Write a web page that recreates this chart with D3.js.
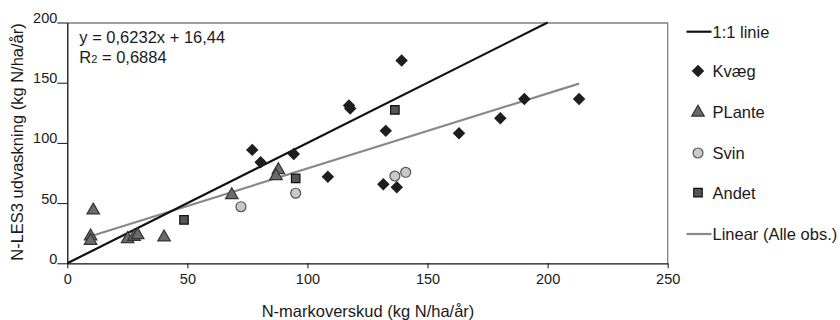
<!DOCTYPE html>
<meta charset="utf-8">
<head>
  <meta charset="utf-8">
  <title>N-LES3 vs N-markoverskud</title>
  <script src="https://d3js.org/d3.v7.min.js"></script>
</head>
<style>
body {margin:0; background:#fff;}
svg text {font-family: "Liberation Sans", Arial, sans-serif; fill:#1a1a1a;}
.tick text {font-size: 14.5px;}
.lbl {font-size: 16.5px;}
</style>
<body>
<svg id="chart" width="840" height="320"></svg>
<script>

// data (x = N-markoverskud, y = N-LES3 udvaskning)
var kvaeg = [[77,94.2],[80.5,84],[94.3,90.7],[108.5,71.8],[117.3,131],[117.8,128.5],
             [132.6,110],[139.2,168.4],[131.6,65.6],[137.2,63.2],[163.1,108],
             [180.3,120.5],[190.3,136.5],[213.1,136.5]];
var plante = [[10.8,44],[9.7,22.5],[9.7,18.8],[25.1,20.2],[27.8,22.1],[29.3,23.5],
              [40.3,21.6],[68.5,56.8],[87.9,77.5],[86.9,72.5]];
var svin = [[72.3,47],[95.1,58.2],[136.4,72.5],[140.9,75.6]];
var andet = [[48.6,36],[95.1,70.6],[136.4,127.4]];

var xTicks = [0,50,100,150,200,250];
var yTicks = [0,50,100,150,200];
var oneToOne = [[0,0],[200,200]];
var slope = 0.6232, intercept = 16.44;
var eqText = "y = 0,6232x + 16,44";
var r2Value = "0,6884";
var legendNames = ["1:1 linie","Kvæg","PLante","Svin","Andet","Linear (Alle obs.)"];

var margin = {top: 22.5, left: 67.3},
    width = 600.4,
    height = 240.8;

var svg = d3.select("#chart");
var g = svg.append("g")
    .attr("transform", "translate(" + margin.left + "," + margin.top + ")");

var x = d3.scaleLinear().domain([0,250]).range([0,width]);
var y = d3.scaleLinear().domain([0,200]).range([height,0]);

// top and right frame (gray)
g.append("path")
    .attr("d", "M0,0.5H" + width + "V" + height)
    .attr("fill","none").attr("stroke","#808080").attr("stroke-width",1.3);

// x axis
var xa = g.append("g")
    .attr("transform","translate(0," + height + ")")
    .call(d3.axisBottom(x).tickValues(xTicks).tickSize(5).tickSizeOuter(0));
xa.select(".domain").attr("stroke","#111").attr("stroke-width",1.3);
xa.selectAll(".tick line").attr("stroke","#111");
xa.selectAll(".tick text").attr("y",10).attr("dy","0.71em").attr("font-family",null).attr("font-size",null);

// y axis: label sits on top of the tick
var ya = g.append("g")
    .call(d3.axisLeft(y).tickValues(yTicks).tickSize(10).tickSizeOuter(0));
ya.select(".domain").attr("stroke","#111").attr("stroke-width",1.3);
ya.selectAll(".tick line").attr("stroke","#111");
ya.selectAll(".tick text").attr("x",-10).attr("dy","0").attr("font-family",null).attr("font-size",null);

// lines
var line = d3.line().x(function(d){ return x(d[0]); }).y(function(d){ return y(d[1]); });

var allX = kvaeg.concat(plante, svin, andet).map(function(d){ return d[0]; });
var xmin = d3.min(allX), xmax = d3.max(allX);
var trend = [[xmin, slope*xmin + intercept],[xmax, slope*xmax + intercept]];

g.append("path").datum(trend).attr("d", line)
    .attr("fill","none").attr("stroke","#888").attr("stroke-width",2.2);
g.append("path").datum(oneToOne).attr("d", line)
    .attr("fill","none").attr("stroke","#111").attr("stroke-width",2.2);

// marker styles
var styles = {
  kvaeg: {path: d3.symbol().type(d3.symbolSquare).size(58)(), rot: 45, fill:"#1e1e1e", stroke:"#1e1e1e"},
  plante: {path: d3.symbol().type(d3.symbolTriangle).size(68)(), rot: 0, fill:"#6b6b6b", stroke:"#333"},
  svin: {path: d3.symbol().type(d3.symbolCircle).size(78)(), rot: 0, fill:"#c9c9c9", stroke:"#555"},
  andet: {path: d3.symbol().type(d3.symbolSquare).size(72)(), rot: 0, fill:"#555", stroke:"#111"}
};

function drawPoints(data, st) {
  g.append("g").selectAll("path")
    .data(data)
    .enter().append("path")
    .attr("d", st.path)
    .attr("transform", function(d){ return "translate(" + x(d[0]) + "," + y(d[1]) + ") rotate(" + st.rot + ")"; })
    .attr("fill", st.fill)
    .attr("stroke", st.stroke)
    .attr("stroke-width", 1.2);
}
drawPoints(svin, styles.svin);
drawPoints(plante, styles.plante);
drawPoints(andet, styles.andet);
drawPoints(kvaeg, styles.kvaeg);

// equation
g.append("text").attr("class","lbl").attr("x",12).attr("y",20.8).text(eqText);
var r2 = g.append("text").attr("class","lbl").attr("x",12).attr("y",40.8);
r2.append("tspan").text("R");
r2.append("tspan").attr("font-size","11px").text("2");
r2.append("tspan").text(" = " + r2Value);

// axis titles
svg.append("text").attr("class","lbl")
    .attr("x", margin.left + width/2 + 0.5).attr("y", 316.5)
    .attr("text-anchor","middle")
    .text("N-markoverskud (kg N/ha/år)");
svg.append("text").attr("class","lbl")
    .attr("transform","translate(23,142) rotate(-90)")
    .attr("text-anchor","middle")
    .text("N-LES3 udvaskning (kg N/ha/år)");

// legend
var legY = [31.7, 71, 112.5, 153, 192.7, 234];
var leg = svg.append("g");
var legKeys = ["line1","kvaeg","plante","svin","andet","trend"];
legKeys.forEach(function(k, i){
  var cy = legY[i];
  if (k == "line1" || k == "trend") {
    leg.append("line").attr("x1",686.5).attr("x2",711.5).attr("y1",cy).attr("y2",cy)
      .attr("stroke", k == "line1" ? "#111" : "#888").attr("stroke-width",2.2);
  } else {
    var st = styles[k];
    leg.append("path").attr("d", st.path)
      .attr("transform","translate(698," + cy + ") rotate(" + st.rot + ")")
      .attr("fill", st.fill).attr("stroke", st.stroke).attr("stroke-width",1.2);
  }
  leg.append("text").attr("class","lbl")
    .attr("x", 712.5).attr("y", cy).attr("dy","0.36em")
    .text(legendNames[i]);
});

</script>
</body>
